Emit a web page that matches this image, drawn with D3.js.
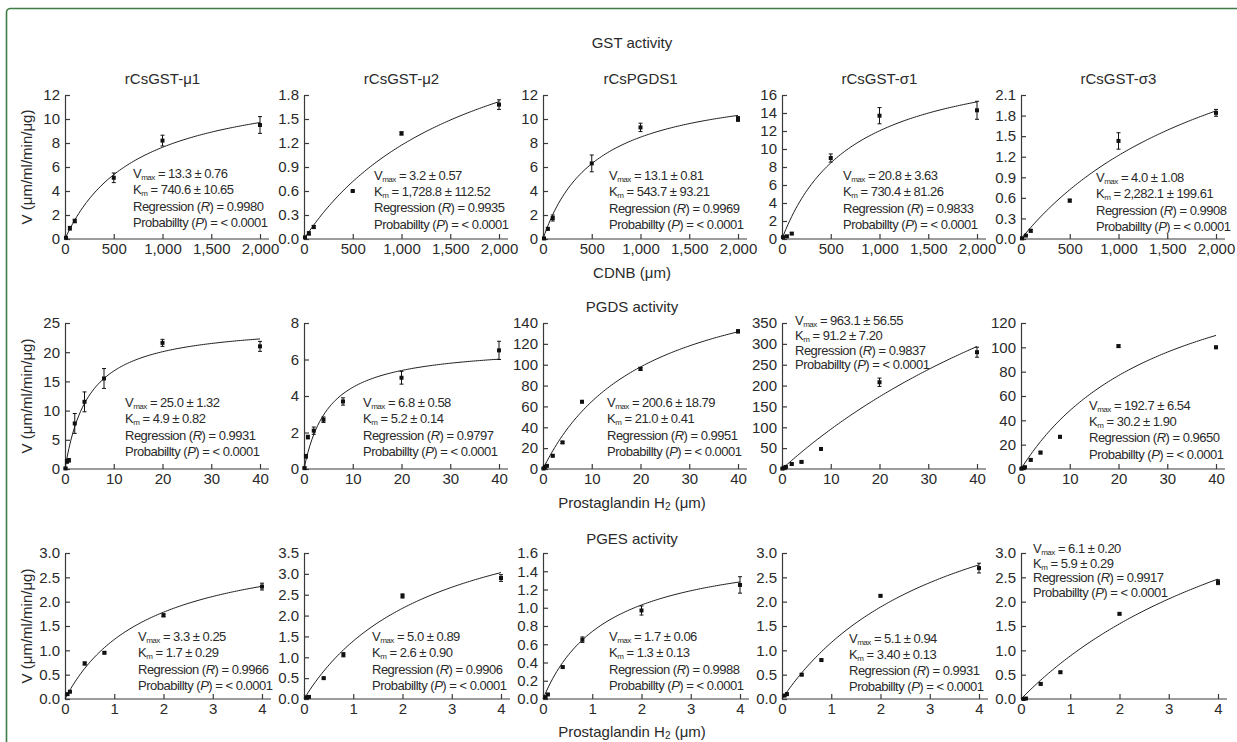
<!DOCTYPE html>
<meta charset="utf-8">
<style>
body {
  margin: 0;
  background: #fff;
  font-family: "Liberation Sans", Arial, Helvetica, sans-serif;
}
svg text { fill: #2a2a2a; }
.axis path, .axis line, .xline {
  stroke: #3a3a3a;
  stroke-width: 1.2;
  fill: none;
}
.axis text { font-size: 15px; fill: #2a2a2a; font-family: "Liberation Sans", Arial, sans-serif; }
.fit { fill: none; stroke: #1e1e1e; stroke-width: 1; }
.err { stroke: #111; stroke-width: 1; }
.pt { fill: #111; }
.stats { font-size: 13px; letter-spacing: -0.5px; }
.title { font-size: 15px; }
.head { font-size: 15px; }
</style>
<body>
<script src="https://cdn.jsdelivr.net/npm/d3@7"></script>
<script>

var width = 1237,
    height = 742;

var enzymes = ["rCsGST-\u03bc1", "rCsGST-\u03bc2", "rCsPGDS1", "rCsGST-\u03c31", "rCsGST-\u03c33"];

// GST activity (CDNB, µm)
var gstConc = [10, 50, 100, 500, 1000, 2000];
var gstV = [
  [0.1, 0.9, 1.5, 5.1, 8.2, 9.5],
  [0.02, 0.07, 0.15, 0.6, 1.32, 1.68],
  [0.05, 0.85, 1.75, 6.3, 9.3, 10.0],
  [0.2, 0.3, 0.6, 9.0, 13.7, 14.3],
  [0.01, 0.05, 0.12, 0.56, 1.43, 1.84]
];
var gstSd = [
  [0.05, 0.15, 0.15, 0.4, 0.45, 0.7],
  [0.01, 0.02, 0.02, 0.01, 0.02, 0.06],
  [0.05, 0.1, 0.25, 0.7, 0.35, 0.2],
  [0.05, 0.05, 0.1, 0.45, 0.9, 1.0],
  [0.01, 0.01, 0.02, 0.02, 0.12, 0.05]
];
var gstVmax = ["13.3", "3.2", "13.1", "20.8", "4.0"];
var gstVmaxSd = ["0.76", "0.57", "0.81", "3.63", "1.08"];
var gstKm = ["740.6", "1,728.8", "543.7", "730.4", "2,282.1"];
var gstKmSd = ["10.65", "112.52", "93.21", "81.26", "199.61"];
var gstR = ["0.9980", "0.9935", "0.9969", "0.9833", "0.9908"];
var gstYMax = [12, 1.8, 12, 16, 2.1];
var gstYStep = [2, 0.3, 2, 2, 0.3];
var gstXTicks = [0, 500, 1000, 1500, 2000];

// PGDS activity (Prostaglandin H2, µm)
var pgdsConc = [0.1, 0.4, 0.8, 2, 4, 8, 20, 40];
var pgdsV = [
  [0.1, 1.3, 1.5, 7.8, 11.5, 15.5, 21.6, 21.0],
  [0.05, 0.7, 1.75, 2.1, 2.7, 3.7, 5.0, 6.5],
  [0.5, 2, 3, 12.7, 25.5, 64.5, 96, 132],
  [1, 3, 5, 12, 17, 48, 208, 280],
  [0.3, 0.8, 1.5, 7.5, 13.5, 26.5, 101, 100]
];
var pgdsSd = [
  [0.1, 0.3, 0.3, 1.7, 1.7, 1.7, 0.6, 0.85],
  [0.05, 0.1, 0.1, 0.2, 0.15, 0.2, 0.35, 0.5],
  [0.3, 0.5, 0.5, 1, 1, 1, 1.5, 1.5],
  [1, 1, 1, 2, 2, 2, 10, 12],
  [0.3, 0.3, 0.5, 1, 1, 1, 1, 1]
];
var pgdsVmax = ["25.0", "6.8", "200.6", "963.1", "192.7"];
var pgdsVmaxSd = ["1.32", "0.58", "18.79", "56.55", "6.54"];
var pgdsKm = ["4.9", "5.2", "21.0", "91.2", "30.2"];
var pgdsKmSd = ["0.82", "0.14", "0.41", "7.20", "1.90"];
var pgdsR = ["0.9931", "0.9797", "0.9951", "0.9837", "0.9650"];
var pgdsYMax = [25, 8, 140, 350, 120];
var pgdsYStep = [5, 2, 20, 50, 20];
var pgdsXTicks = [0, 10, 20, 30, 40];

// PGES activity (Prostaglandin H2, µm)
var pgesConc = [0.05, 0.1, 0.4, 0.8, 2, 4];
var pgesV = [
  [0.1, 0.15, 0.73, 0.95, 1.72, 2.31],
  [0.04, 0.05, 0.5, 1.06, 2.47, 2.9],
  [0.02, 0.05, 0.35, 0.65, 0.97, 1.25],
  [0.07, 0.1, 0.5, 0.8, 2.12, 2.69],
  [0.0, 0.01, 0.31, 0.55, 1.75, 2.4]
];
var pgesSd = [
  [0.02, 0.02, 0.03, 0.02, 0.03, 0.07],
  [0.02, 0.02, 0.02, 0.05, 0.05, 0.08],
  [0.01, 0.01, 0.01, 0.03, 0.05, 0.09],
  [0.02, 0.02, 0.02, 0.02, 0.02, 0.1],
  [0.01, 0.01, 0.02, 0.02, 0.02, 0.05]
];
var pgesVmax = ["3.3", "5.0", "1.7", "5.1", "6.1"];
var pgesVmaxSd = ["0.25", "0.89", "0.06", "0.94", "0.20"];
var pgesKm = ["1.7", "2.6", "1.3", "3.40", "5.9"];
var pgesKmSd = ["0.29", "0.90", "0.13", "0.13", "0.29"];
var pgesR = ["0.9966", "0.9906", "0.9988", "0.9931", "0.9917"];
var pgesYMax = [3.0, 3.5, 1.6, 3.0, 3.0];
var pgesYStep = [0.5, 0.5, 0.2, 0.5, 0.5];
var pgesXTicks = [0, 1, 2, 3, 4];

// layout
var colX = [65, 304, 543, 782, 1021];
var rows = [
  {top: 95, bottom: 239, w: 195, title: "GST activity", titleY: 48, conc: gstConc, v: gstV, sd: gstSd,
   vmax: gstVmax, vmaxSd: gstVmaxSd, km: gstKm, kmSd: gstKmSd, r: gstR, ymax: gstYMax, ystep: gstYStep,
   xticks: gstXTicks, xfmt: d3.format(","), yfmt: [d3.format("d"), d3.format(".1f"), d3.format("d"), d3.format("d"), d3.format(".1f")],
   stats: [[133, 174, 16.4], [374, 176, 16.2], [609, 176, 16.4], [843, 176, 16.3], [1096, 178, 16.3]]},
  {top: 323, bottom: 469, w: 195, title: "PGDS activity", titleY: 312, conc: pgdsConc, v: pgdsV, sd: pgdsSd,
   vmax: pgdsVmax, vmaxSd: pgdsVmaxSd, km: pgdsKm, kmSd: pgdsKmSd, r: pgdsR, ymax: pgdsYMax, ystep: pgdsYStep,
   xticks: pgdsXTicks, xfmt: d3.format("d"), yfmt: [d3.format("d"), d3.format("d"), d3.format("d"), d3.format("d"), d3.format("d")],
   stats: [[125, 403, 16.3], [363, 403, 16.3], [607, 403, 16.3], [795, 321, 14.8], [1089, 406, 16.2]]},
  {top: 553, bottom: 699, w: 197, title: "PGES activity", titleY: 544, conc: pgesConc, v: pgesV, sd: pgesSd,
   vmax: pgesVmax, vmaxSd: pgesVmaxSd, km: pgesKm, kmSd: pgesKmSd, r: pgesR, ymax: pgesYMax, ystep: pgesYStep,
   xticks: pgesXTicks, xfmt: d3.format("d"), yfmt: [d3.format(".1f"), d3.format(".1f"), d3.format(".1f"), d3.format(".1f"), d3.format(".1f")],
   stats: [[138, 637, 16.3], [372, 637, 16.3], [609, 637, 16.3], [849, 639, 16.0], [1033, 549, 14.7]]}
];
var xLabels = [
  {y: 278, parts: ["CDNB (\u03bcm)"]},
  {y: 508, parts: ["Prostaglandin H", "2", " (\u03bcm)"]},
  {y: 737, parts: ["Prostaglandin H", "2", " (\u03bcm)"]}
];

var num = function(s) { return +s.replace(/,/g, ""); };

var svg = d3.select("body").append("svg")
    .attr("width", width)
    .attr("height", height);

// green frame
svg.append("rect")
    .attr("x", 6.5).attr("y", 8.5)
    .attr("width", width + 20).attr("height", height + 20)
    .attr("rx", 4)
    .attr("fill", "none")
    .attr("stroke", "#3f7d45")
    .attr("stroke-width", 1.6);

rows.forEach(function(row, ri) {
  var h = row.bottom - row.top;

  svg.append("text")
      .attr("class", "head")
      .attr("x", 632).attr("y", row.titleY)
      .attr("text-anchor", "middle")
      .text(row.title);

  var xl = svg.append("text")
      .attr("class", "head")
      .attr("x", 632).attr("y", xLabels[ri].y)
      .attr("text-anchor", "middle");
  xl.append("tspan").text(xLabels[ri].parts[0]);
  if (xLabels[ri].parts.length > 1) {
    xl.append("tspan").attr("font-size", "10px").attr("dy", 2).text(xLabels[ri].parts[1]);
    xl.append("tspan").attr("dy", -2).text(xLabels[ri].parts[2]);
  }

  svg.append("text")
      .attr("class", "head")
      .attr("transform", "translate(32," + (row.top + h / 2) + ") rotate(-90)")
      .attr("text-anchor", "middle")
      .text("V (\u03bcm/ml/min/\u03bcg)");

  enzymes.forEach(function(name, ci) {
    var g = svg.append("g")
        .attr("transform", "translate(" + colX[ci] + "," + row.top + ")");

    var xmax = row.xticks[row.xticks.length - 1];
    var x = d3.scaleLinear().domain([0, xmax]).range([0, row.w]);
    var y = d3.scaleLinear().domain([0, row.ymax[ci]]).range([h, 0]);
    var yticks = d3.range(0, row.ymax[ci] + row.ystep[ci] / 2, row.ystep[ci]);

    if (ri === 0) {
      g.append("text")
          .attr("class", "title")
          .attr("x", row.w / 2).attr("y", -11)
          .attr("text-anchor", "middle")
          .text(name);
    }

    var xa = g.append("g")
        .attr("class", "axis")
        .attr("transform", "translate(0," + h + ")")
        .call(d3.axisBottom(x).tickValues(row.xticks).tickFormat(row.xfmt)
          .tickSizeInner(-5).tickSizeOuter(0).tickPadding(4));
    xa.select(".domain").remove();
    xa.append("line").attr("class", "xline").attr("x1", 0).attr("x2", row.w + 9);

    g.append("g")
        .attr("class", "axis")
        .call(d3.axisLeft(y).tickValues(yticks).tickFormat(row.yfmt[ci])
          .tickSizeInner(-5).tickSizeOuter(0).tickPadding(5));

    // Michaelis-Menten fit from the stated Vmax / Km
    var vm = num(row.vmax[ci]), km = num(row.km[ci]);
    var line = d3.line()
        .x(function(s) { return x(s); })
        .y(function(s) { return y(vm * s / (km + s)); });
    g.append("path")
        .attr("class", "fit")
        .attr("d", line(d3.range(0, 101).map(function(i) { return xmax * i / 100; })));

    var pts = row.conc.map(function(c, i) { return {c: c, v: row.v[ci][i], sd: row.sd[ci][i]}; });

    var eb = g.selectAll(".eb").data(pts).enter().append("g").attr("class", "eb");
    eb.append("line").attr("class", "err")
        .attr("x1", function(d) { return x(d.c); }).attr("x2", function(d) { return x(d.c); })
        .attr("y1", function(d) { return y(d.v - d.sd); }).attr("y2", function(d) { return y(d.v + d.sd); });
    [-1, 1].forEach(function(sg) {
      eb.append("line").attr("class", "err")
          .attr("x1", function(d) { return x(d.c) - 2; }).attr("x2", function(d) { return x(d.c) + 2; })
          .attr("y1", function(d) { return y(d.v + sg * d.sd); }).attr("y2", function(d) { return y(d.v + sg * d.sd); });
    });

    g.selectAll(".pt").data(pts).enter().append("rect")
        .attr("class", "pt")
        .attr("x", function(d) { return x(d.c) - 2; })
        .attr("y", function(d) { return y(d.v) - 2; })
        .attr("width", 4).attr("height", 4);

    // stats text
    var sp = row.stats[ci];
    var st = svg.append("g").attr("class", "stats");
    var y0 = sp[1] + 4, gap = sp[2];

    var t1 = st.append("text").attr("x", sp[0]).attr("y", y0);
    t1.append("tspan").text("V");
    t1.append("tspan").attr("font-size", "8px").attr("dy", 2).text("max");
    t1.append("tspan").attr("dy", -2).text(" = " + row.vmax[ci] + " \u00b1 " + row.vmaxSd[ci]);

    var t2 = st.append("text").attr("x", sp[0]).attr("y", y0 + gap);
    t2.append("tspan").text("K");
    t2.append("tspan").attr("font-size", "8px").attr("dy", 2).text("m");
    t2.append("tspan").attr("dy", -2).text(" = " + row.km[ci] + " \u00b1 " + row.kmSd[ci]);

    var t3 = st.append("text").attr("x", sp[0]).attr("y", y0 + 2 * gap);
    t3.append("tspan").text("Regression (");
    t3.append("tspan").attr("font-style", "italic").text("R");
    t3.append("tspan").text(") = " + row.r[ci]);

    var t4 = st.append("text").attr("x", sp[0]).attr("y", y0 + 3 * gap);
    t4.append("tspan").text("Probabillty (");
    t4.append("tspan").attr("font-style", "italic").text("P");
    t4.append("tspan").text(") = < 0.0001");
  });
});

</script>
